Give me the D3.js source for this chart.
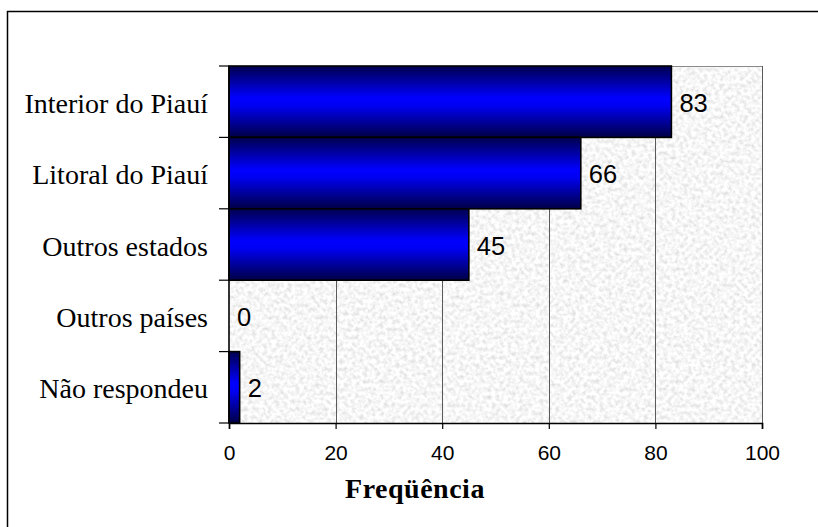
<!DOCTYPE html>
<html>
<head>
<meta charset="utf-8">
<script src="https://cdn.jsdelivr.net/npm/d3@7/dist/d3.min.js"></script>
<style>
  html, body { margin: 0; padding: 0; background: #fff; }
  svg { display: block; }
</style>
</head>
<body>
<svg id="chart" width="818" height="527"></svg>
<script>
// Origem dos respondentes
const categories = ["Interior do Piauí", "Litoral do Piauí", "Outros estados", "Outros países", "Não respondeu"];
const values = [83, 66, 45, 0, 2];
const xTicks = [0, 20, 40, 60, 80, 100];
const xTitle = "Freqüência";

const W = 818, H = 527;
const plot = { left: 229, right: 762, top: 66, bottom: 423 };

const svg = d3.select("#chart");
const defs = svg.append("defs");

// speckled gray background of the plot area
const tex = defs.append("filter").attr("id", "speckle")
  .attr("x", 0).attr("y", 0).attr("width", 1).attr("height", 1)
  .attr("filterUnits", "objectBoundingBox");
tex.append("feTurbulence").attr("type", "fractalNoise")
  .attr("baseFrequency", "0.25").attr("numOctaves", 3).attr("seed", 7).attr("result", "n");
tex.append("feColorMatrix").attr("in", "n").attr("type", "matrix")
  .attr("values", "0.55 0 0 0 0.65  0.55 0 0 0 0.65  0.55 0 0 0 0.65  0 0 0 0 1");

// bar shading: dark navy edges, bright blue middle
const grad = defs.append("linearGradient").attr("id", "barFill")
  .attr("x1", 0).attr("y1", 0).attr("x2", 0).attr("y2", 1);
grad.append("stop").attr("offset", "0%").attr("stop-color", "#00004e");
grad.append("stop").attr("offset", "45%").attr("stop-color", "#0000ff");
grad.append("stop").attr("offset", "55%").attr("stop-color", "#0000f4");
grad.append("stop").attr("offset", "100%").attr("stop-color", "#000046");

// outer frame
svg.append("rect").attr("x", 7.5).attr("y", 11.5)
  .attr("width", W + 20).attr("height", H + 20)
  .attr("fill", "none").attr("stroke", "#000").attr("stroke-width", 1.5);

const x = d3.scaleLinear().domain([0, 100]).range([plot.left, plot.right]);
const y = d3.scaleBand().domain(categories).range([plot.top, plot.bottom]).padding(0);

// plot background
svg.append("rect")
  .attr("x", plot.left).attr("y", plot.top)
  .attr("width", plot.right - plot.left).attr("height", plot.bottom - plot.top)
  .attr("fill", "#e8e8e8").attr("filter", "url(#speckle)");

// vertical gridlines
svg.append("g").selectAll("line").data(xTicks.slice(1)).join("line")
  .attr("x1", d => Math.round(x(d)) + 0.5).attr("x2", d => Math.round(x(d)) + 0.5)
  .attr("y1", plot.top).attr("y2", plot.bottom)
  .attr("stroke", "#5a5a5a").attr("stroke-width", 1);

// top border of plot area
svg.append("line").attr("x1", plot.left).attr("x2", plot.right)
  .attr("y1", plot.top + 0.5).attr("y2", plot.top + 0.5)
  .attr("stroke", "#8a8a8a").attr("stroke-width", 1);

// bars
svg.append("g").selectAll("rect").data(values).join("rect")
  .attr("x", x(0))
  .attr("y", (d, i) => y(categories[i]))
  .attr("width", d => x(d) - x(0))
  .attr("height", y.bandwidth())
  .attr("fill", "url(#barFill)")
  .attr("stroke", "#000").attr("stroke-width", 1.6);

// value labels
svg.append("g").selectAll("text").data(values).join("text")
  .attr("x", d => x(d) + 8)
  .attr("y", (d, i) => y(categories[i]) + y.bandwidth() / 2 + 10)
  .attr("font-family", "Liberation Sans, Arial, sans-serif")
  .attr("font-size", 25.5).attr("fill", "#000")
  .text(d => d);

// x axis
const xAxis = svg.append("g").attr("transform", `translate(0,${plot.bottom})`)
  .call(d3.axisBottom(x).tickValues(xTicks).tickSize(6).tickPadding(16).tickFormat(d3.format("d")));
xAxis.select(".domain").attr("stroke", "#000").attr("stroke-width", 1.6);
xAxis.selectAll(".tick line").attr("stroke", "#000").attr("stroke-width", 1.2);
xAxis.selectAll(".tick text")
  .attr("font-family", "Liberation Sans, Arial, sans-serif")
  .attr("font-size", 21).attr("fill", "#000");

// y axis: ticks sit on band boundaries
const bounds = d3.range(categories.length + 1).map(i => plot.top + i * y.step());
svg.append("line").attr("x1", plot.left).attr("x2", plot.left)
  .attr("y1", plot.top).attr("y2", plot.bottom)
  .attr("stroke", "#000").attr("stroke-width", 1.6);
svg.append("g").selectAll("line").data(bounds).join("line")
  .attr("x1", plot.left - 10).attr("x2", plot.left)
  .attr("y1", d => d).attr("y2", d => d)
  .attr("stroke", "#000").attr("stroke-width", 1.2);

svg.append("g").selectAll("text").data(categories).join("text")
  .attr("x", 208)
  .attr("y", d => y(d) + y.bandwidth() / 2 + 11)
  .attr("text-anchor", "end")
  .attr("font-family", "Liberation Serif, Times New Roman, serif")
  .attr("font-size", 28).attr("fill", "#000")
  .text(d => d);

// axis title
svg.append("text")
  .attr("x", 415).attr("y", 498)
  .attr("text-anchor", "middle")
  .attr("font-family", "Liberation Serif, Times New Roman, serif")
  .attr("font-weight", "bold").attr("font-size", 28)
  .attr("letter-spacing", 0.5).attr("fill", "#000")
  .text(xTitle);
</script>
</body>
</html>
